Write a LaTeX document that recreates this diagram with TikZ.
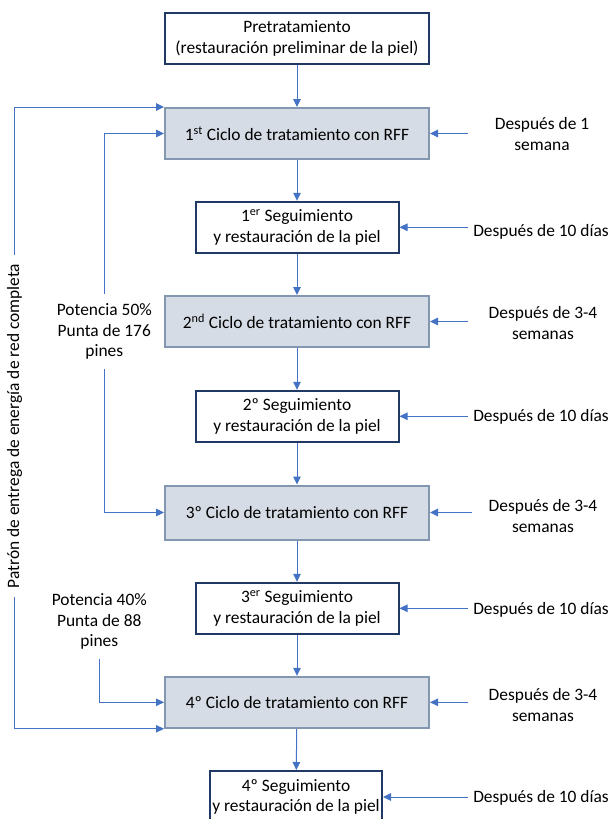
\documentclass[tikz,border=0pt]{standalone}
\usepackage{fontspec}
\setmainfont{Carlito}
\usetikzlibrary{arrows.meta}
\definecolor{abl}{HTML}{4472C4}
\definecolor{navy}{HTML}{1F3864}
\definecolor{gfill}{HTML}{D6DCE5}
\definecolor{gborder}{HTML}{8497B0}
\begin{document}
\begin{tikzpicture}[x=1pt,y=-1pt,
  every node/.style={font=\fontsize{17.4}{20.7}\selectfont, text=black},
  whitebox/.style={draw=navy, line width=2pt, fill=white, minimum height=51pt, inner sep=0pt, align=center},
  graybox/.style={draw=gborder, line width=2pt, fill=gfill, minimum width=264pt, minimum height=51pt, inner sep=0pt, align=center},
  conn/.style={draw=abl, line width=1pt, -{Triangle[length=8pt,width=7.5pt]}},
  rlabel/.style={align=center, minimum width=146pt, inner xsep=0pt, inner ysep=0pt},
  llabel/.style={align=center, inner sep=0pt}]
\useasboundingbox (0,0) rectangle (614,819);

% main column
\node[whitebox, minimum width=264pt] (pre) at (297,38.5) {Pretratamiento\\(restauración preliminar de la piel)};
\node[graybox] (c1) at (297,133.5) {1\textsuperscript{st} Ciclo de tratamiento con RFF};
\node[whitebox, minimum width=203pt] (s1) at (297,227.3) {1\textsuperscript{er} Seguimiento\\y restauración de la piel};
\node[graybox] (c2) at (297,321.5) {2\textsuperscript{nd} Ciclo de tratamiento con RFF};
\node[whitebox, minimum width=203pt] (s2) at (297,416.3) {2º Seguimiento\\y restauración de la piel};
\node[graybox, minimum height=54pt] (c3) at (297,512.5) {3º Ciclo de tratamiento con RFF};
\node[whitebox, minimum width=203pt] (s3) at (297,608.3) {3\textsuperscript{er} Seguimiento\\y restauración de la piel};
\node[graybox] (c4) at (297,702.3) {4º Ciclo de tratamiento con RFF};
\node[whitebox, minimum width=172pt, minimum height=52pt] (s4) at (296,797) {4º Seguimiento\\y restauración de la piel};

\draw[conn] (pre) -- (c1);
\draw[conn] (c1) -- (s1);
\draw[conn] (s1) -- (c2);
\draw[conn] (c2) -- (s2);
\draw[conn] (s2) -- (c3);
\draw[conn] (c3) -- (s3);
\draw[conn] (s3) -- (c4);
\draw[conn] (c4) -- (s4);

% right labels
\node[rlabel] (r1) at (542,134.3) {Después de 1\\semana};
\node[rlabel] (r2) at (541,232) {Después de 10 días};
\node[rlabel] (r3) at (543,323) {Después de 3-4\\semanas};
\node[rlabel] (r4) at (541,416.5) {Después de 10 días};
\node[rlabel] (r5) at (543,516) {Después de 3-4\\semanas};
\node[rlabel] (r6) at (541,609.5) {Después de 10 días};
\node[rlabel] (r7) at (543,705) {Después de 3-4\\semanas};
\node[rlabel] (r8) at (541,798) {Después de 10 días};

\draw[conn] ([xshift=-1pt]c1.east -| r1.west) -- (c1.east);
\draw[conn] (s1.east -| r2.west) -- (s1.east);
\draw[conn] ([xshift=-2pt]c2.east -| r3.west) -- (c2.east);
\draw[conn] (s2.east -| r4.west) -- (s2.east);
\draw[conn] ([xshift=2pt]c3.east -| r5.west) -- (c3.east);
\draw[conn] (s3.east -| r6.west) -- (s3.east);
\draw[conn] ([xshift=-2pt]c4.east -| r7.west) -- (c4.east);
\draw[conn] (s4.east -| r8.west) -- (s4.east);

% left side
\node[rotate=90, inner xsep=9pt, inner ysep=0pt] (pat) at (14.5,426) {Patrón de entrega de energía de red completa};
\draw[conn] (pat.east) |- (c1.north west);
\draw[conn] (pat.west) |- (c4.south west);

\node[llabel, inner ysep=9pt] (p50) at (104.3,331.5) {Potencia 50\%\\Punta de 176\\pines};
\draw[conn] (p50.north) |- (c1.west);
\draw[conn] (p50.south) |- (c3.west);

\node[llabel, inner ysep=9pt] (p40) at (99.3,621.5) {Potencia 40\%\\Punta de 88\\pines};
\draw[conn] (p40.south) |- (c4.west);
\end{tikzpicture}
\end{document}
